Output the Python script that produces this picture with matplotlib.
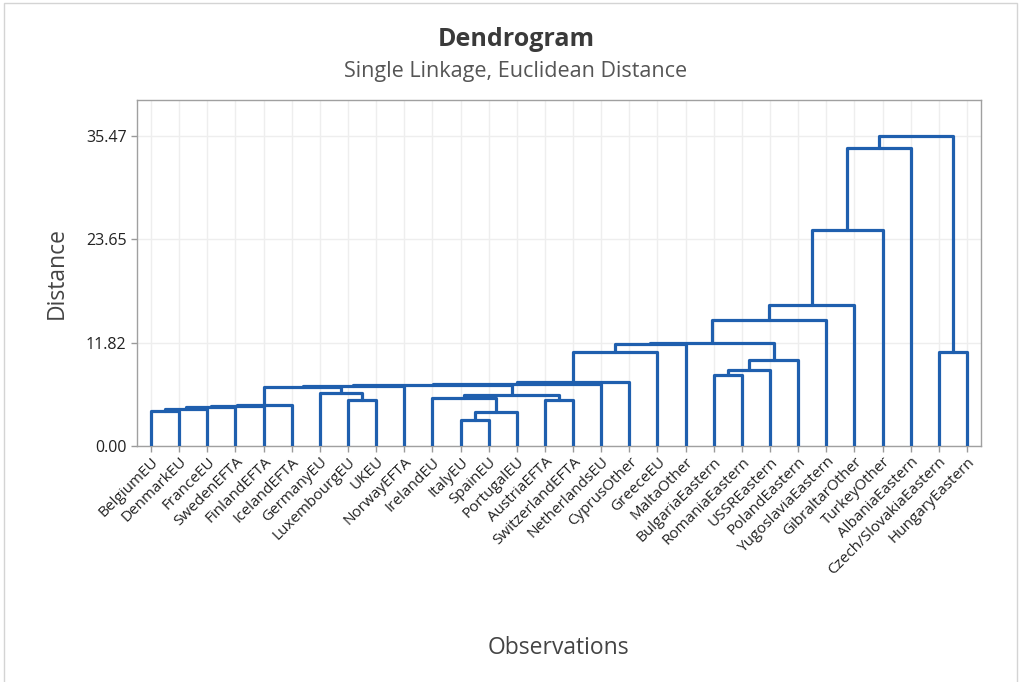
import matplotlib
matplotlib.use("Agg")
import matplotlib.pyplot as plt
from matplotlib.patches import Rectangle

# ---- data ----
labels = ["BelgiumEU", "DenmarkEU", "FranceEU", "SwedenEFTA", "FinlandEFTA", "IcelandEFTA",
          "GermanyEU", "LuxembourgEU", "UKEU", "NorwayEFTA", "IrelandEU", "ItalyEU",
          "SpainEU", "PortugalEU", "AustriaEFTA", "SwitzerlandEFTA", "NetherlandsEU",
          "CyprusOther", "GreeceEU", "MaltaOther", "BulgariaEastern", "RomaniaEastern",
          "USSREastern", "PolandEastern", "YugoslaviaEastern", "GibraltarOther",
          "TurkeyOther", "AlbaniaEastern", "Czech/SlovakiaEastern", "HungaryEastern"]

# merges: (child_a, child_b) ; new node ids start at len(labels)
merge_a = [0, 30, 31, 32, 33, 7, 6, 11, 37, 10, 14, 39, 34, 42, 43, 44, 45, 46, 47,
           20, 49, 50, 48, 52, 53, 54, 55, 28, 56]
merge_b = [1, 2, 3, 4, 5, 8, 35, 12, 13, 38, 15, 40, 36, 9, 41, 16, 17, 18, 19,
           21, 22, 23, 51, 24, 25, 26, 27, 29, 57]
merge_h = [4.00, 4.29, 4.45, 4.58, 4.70, 5.32, 6.03, 2.97, 3.90, 5.46, 5.26, 5.83,
           6.75, 6.83, 6.98, 7.15, 7.36, 10.79, 11.73, 8.12, 8.70, 9.84, 11.84,
           14.42, 16.13, 24.71, 34.06, 10.79, 35.47]

ytick_vals = [0.00, 11.82, 23.65, 35.47]

# ---- figure ----
fig = plt.figure(figsize=(10.22, 6.82), dpi=100)
ax = fig.add_axes([137/1022, 1-446/682, (981-137)/1022, (446-100)/682])

line_color = "#1f5fae"
n = len(labels)
xpos = {i: float(i) for i in range(n)}
hpos = {i: 0.0 for i in range(n)}
for k, (a, b, h) in enumerate(zip(merge_a, merge_b, merge_h)):
    node = n + k
    xa, xb = xpos[a], xpos[b]
    ax.plot([xa, xa, xb, xb], [hpos[a], h, h, hpos[b]], color=line_color,
            lw=2.3, solid_joinstyle="round", solid_capstyle="round", zorder=3)
    xpos[node] = (xa + xb) / 2
    hpos[node] = h

ax.set_xlim(-0.5, n - 0.5)
ax.set_ylim(0, 39.6)
ax.set_xticks(range(n))
ax.set_xticklabels(labels, rotation=45, ha="right", va="top", rotation_mode="anchor",
                   fontsize=11, color="#222222", family="Open Sans")
ax.set_yticks(ytick_vals)
ax.set_yticklabels([f"{v:.2f}" for v in ytick_vals], fontsize=11.5, color="#222222",
                   family="Open Sans")
ax.tick_params(axis="both", length=4, color="#9a9a9a", width=1)
ax.tick_params(axis="x", pad=2)
ax.grid(True, color="#eeeeee", lw=1, zorder=0)
ax.set_axisbelow(True)
for sp in ax.spines.values():
    sp.set_color("#a0a0a0")
    sp.set_linewidth(1)

fig.text(516/1022, 1-40/682, "Dendrogram", ha="center", va="center", fontsize=18,
         fontweight="bold", color="#3a3a3a", family="Open Sans")
fig.text(516/1022, 1-72/682, "Single Linkage, Euclidean Distance", ha="center", va="center",
         fontsize=15.5, color="#555555", family="Open Sans")
fig.text(57/1022, 1-273/682, "Distance", rotation=90, ha="center", va="center",
         fontsize=16.5, color="#444444", family="Open Sans")
fig.text(558/1022, 1-648/682, "Observations", ha="center", va="center",
         fontsize=16.5, color="#444444", family="Open Sans")

fig.patches.append(Rectangle((0.004, -0.01), 0.991, 1.005, transform=fig.transFigure,
                             fill=False, edgecolor="#d4d4d4", lw=1))

fig.savefig("out.png", dpi=100, facecolor="white")
